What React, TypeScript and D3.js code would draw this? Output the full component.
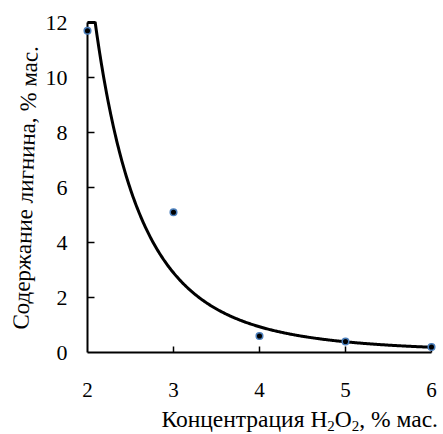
import React from 'react';
import * as d3 from 'd3';

// concentration of H2O2, % mass
const conc = [2, 3, 4, 5, 6];
// lignin content, % mass
const lignin = [11.7, 5.1, 0.6, 0.4, 0.2];
const xTicks = [2, 3, 4, 5, 6];
const yTicks = [0, 2, 4, 6, 8, 10, 12];

const W = 443;
const H = 434;
const margin = { top: 22.5, right: 11.5, bottom: 81.5, left: 87.5 };
const FONT = "'Liberation Serif'";

// power trendline y = a * x^b, least squares in log space (like Excel)
function powerFit(xs: number[], ys: number[]) {
  const lx = xs.map(Math.log);
  const ly = ys.map(Math.log);
  const mx = d3.mean(lx)!;
  const my = d3.mean(ly)!;
  let num = 0, den = 0;
  lx.forEach((v, i) => {
    num += (v - mx) * (ly[i] - my);
    den += (v - mx) * (v - mx);
  });
  const b = num / den;
  const a = Math.exp(my - b * mx);
  return (x: number) => a * Math.pow(x, b);
}

export default function App() {
  const iw = W - margin.left - margin.right;
  const ih = H - margin.top - margin.bottom;

  const x = d3.scaleLinear().domain([2, 6]).range([0, iw]);
  const y = d3.scaleLinear().domain([0, 12]).range([ih, 0]);

  // trendline, clipped at the top of the plot
  const f = powerFit(conc, lignin);
  const xs = d3.range(2, 6.0001, 0.01);
  const line = d3.line<number>()
    .x(d => x(d))
    .y(d => y(Math.min(12, f(d))));

  return (
    <svg width={W} height={H}
      style={{ position: 'absolute', left: 0, top: 0, background: '#fff' }}>
      <g transform={`translate(${margin.left},${margin.top})`}>
        <line x1={0} x2={iw} y1={ih} y2={ih} stroke="#000" strokeWidth={2} />
        <line x1={0} x2={0} y1={0} y2={ih} stroke="#000" strokeWidth={2} />
        {xTicks.slice(1).map(d => (
          <line key={'xt' + d} x1={x(d)} x2={x(d)} y1={ih} y2={ih - 6} stroke="#000" strokeWidth={1.5} />
        ))}
        {yTicks.slice(1).map(d => (
          <line key={'yt' + d} x1={0} x2={7} y1={y(d)} y2={y(d)} stroke="#000" strokeWidth={1.5} />
        ))}
        {xTicks.map(d => (
          <text key={'xl' + d} x={x(d)} y={ih + 44} textAnchor="middle"
            style={{ fontFamily: FONT, fontSize: 21 }}>{d}</text>
        ))}
        {yTicks.map(d => (
          <text key={'yl' + d} x={-20} y={y(d)} dy="0.35em" textAnchor="end"
            style={{ fontFamily: FONT, fontSize: 22 }}>{d}</text>
        ))}
        <path d={line(xs) || ''} fill="none" stroke="#000" strokeWidth={3} />
        {conc.map((d, i) => (
          <circle key={'pt' + d} cx={x(d)} cy={y(lignin[i])} r={3.3}
            fill="#000" stroke="#4a7ebb" strokeWidth={1.5} />
        ))}
      </g>
      <text x={438} y={427} textAnchor="end" style={{ fontFamily: FONT, fontSize: 23.5 }}>
        <tspan>Концентрация H</tspan>
        <tspan dy={4} style={{ fontSize: 15 }}>2</tspan>
        <tspan dy={-4}>O</tspan>
        <tspan dy={4} style={{ fontSize: 15 }}>2</tspan>
        <tspan dy={-4}>, % мас.</tspan>
      </text>
      <text transform="translate(33,188) rotate(-88.1)" textAnchor="middle"
        style={{ fontFamily: FONT, fontSize: 23 }}>
        Содержание лигнина, % мас.
      </text>
    </svg>
  );
}
